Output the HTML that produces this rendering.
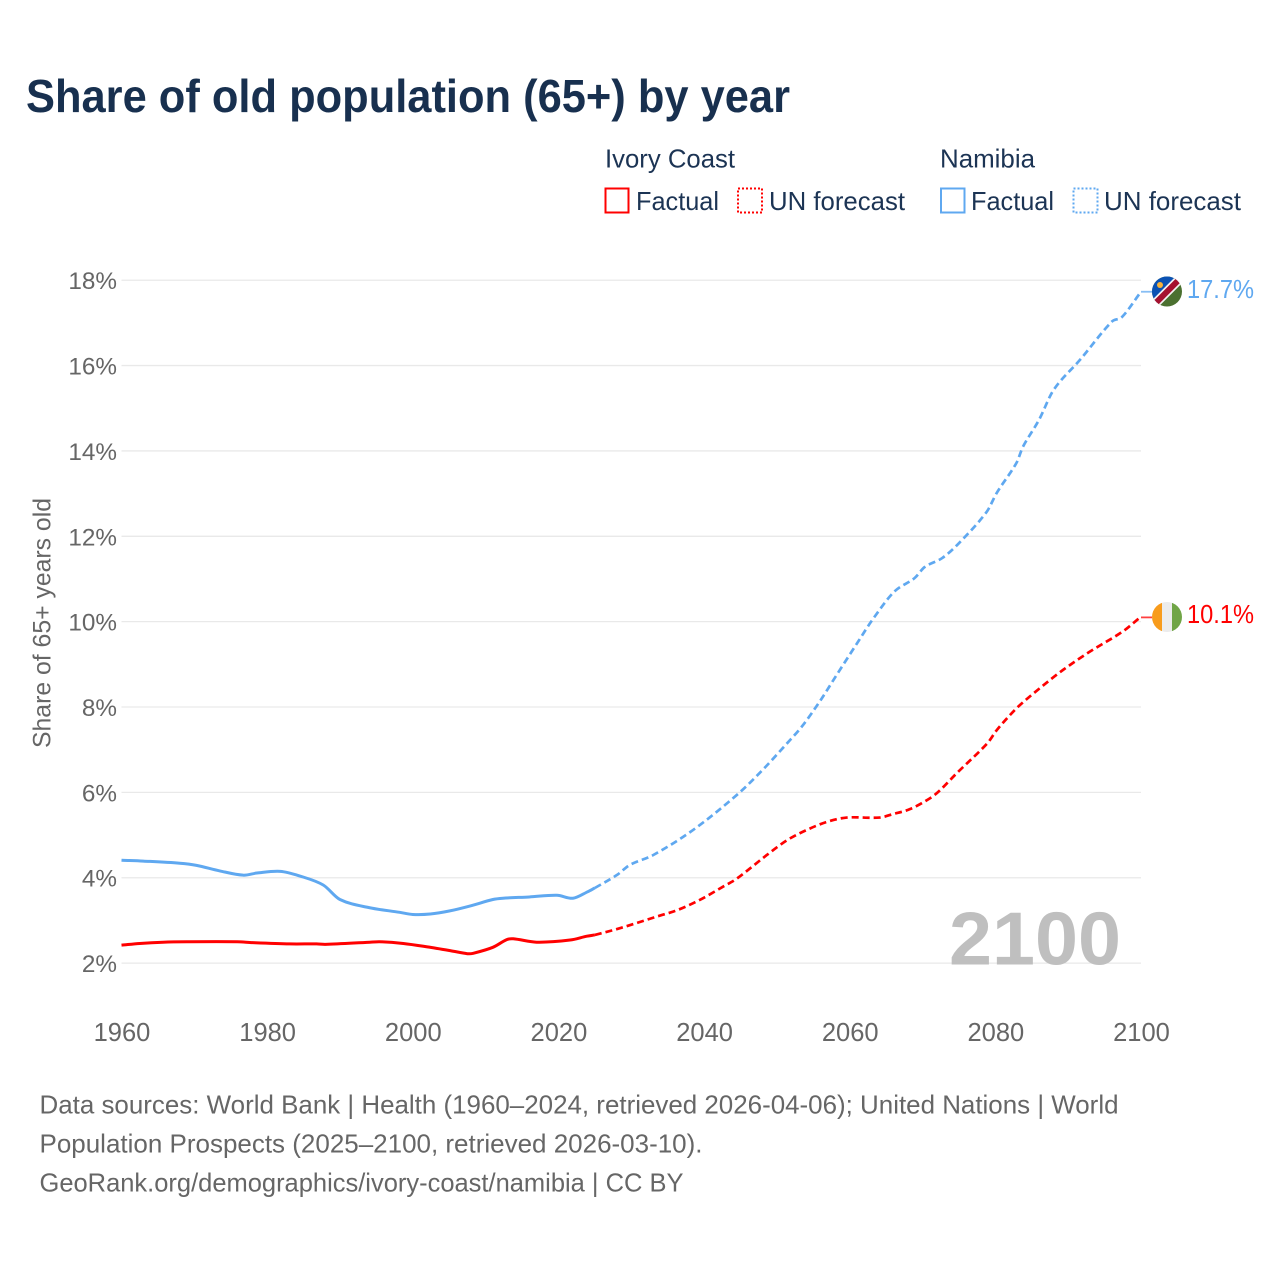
<!DOCTYPE html>
<html lang="en">
<head>
<meta charset="utf-8">
<title>Share of old population (65+) by year</title>
<style>
html,body{margin:0;padding:0;background:#fff}
svg{display:block;font-family:"Liberation Sans",sans-serif}
</style>
</head>
<body>
<svg id="chart" xmlns="http://www.w3.org/2000/svg" width="1280" height="1280" viewBox="0 0 1280 1280">
<defs>
<clipPath id="flag-clip-na"><circle cx="1167" cy="291.5" r="15"/></clipPath>
<clipPath id="flag-clip-ci"><circle cx="1167" cy="617" r="15"/></clipPath>
</defs>
<rect width="1280" height="1280" fill="#fff"/>
<text x="26" y="112" font-size="46" font-weight="700" fill="#18304f" textLength="764" lengthAdjust="spacingAndGlyphs">Share of old population (65+) by year</text>

<g font-size="26" fill="#1c3454">
<text x="605" y="167.5" textLength="130" lengthAdjust="spacingAndGlyphs">Ivory Coast</text>
<text x="940" y="167.5" textLength="95" lengthAdjust="spacingAndGlyphs">Namibia</text>
<rect x="605.5" y="188.5" width="23" height="24" fill="none" stroke="#ff0000" stroke-width="2"/>
<text x="636" y="210" textLength="83" lengthAdjust="spacingAndGlyphs">Factual</text>
<rect x="738" y="188.5" width="24" height="24" fill="none" stroke="#ff0000" stroke-width="2" stroke-dasharray="2 2"/>
<text x="769" y="210" textLength="136" lengthAdjust="spacingAndGlyphs">UN forecast</text>
<rect x="941" y="188.5" width="23.5" height="24" fill="none" stroke="#5fa8f0" stroke-width="2"/>
<text x="971" y="210" textLength="83" lengthAdjust="spacingAndGlyphs">Factual</text>
<rect x="1073.5" y="188.5" width="24" height="24" fill="none" stroke="#5fa8f0" stroke-width="2" stroke-dasharray="2 2"/>
<text x="1104" y="210" textLength="137" lengthAdjust="spacingAndGlyphs">UN forecast</text>
</g>

<g id="grid"></g>
<g id="y-ticks"></g>
<g id="x-ticks"></g>
<text transform="translate(50.5,623) rotate(-90)" text-anchor="middle" font-size="25" fill="#666" textLength="250" lengthAdjust="spacingAndGlyphs">Share of 65+ years old</text>
<text id="year-watermark" x="1121" y="964.5" text-anchor="end" font-size="75" font-weight="700" fill="#bfbfbf" textLength="172" lengthAdjust="spacingAndGlyphs">2100</text>
<g id="series"></g>

<g clip-path="url(#flag-clip-na)">
<rect x="1150" y="275" width="34" height="34" fill="#4b7030"/>
<polygon points="1150,275 1185,275 1150,310" fill="#0b52b4"/>
<polygon points="1154,311.3 1190,275.3 1183.4,268.7 1147.4,304.7" fill="#f4f4f4"/>
<polygon points="1152.8,310.1 1188.8,274.1 1184.6,269.9 1148.6,305.9" fill="#a5112f"/>
<circle cx="1160" cy="285" r="3" fill="#f7b23b"/>
</g>
<g clip-path="url(#flag-clip-ci)">
<rect x="1152" y="602" width="10" height="30" fill="#f89c1c"/>
<rect x="1162" y="602" width="10" height="30" fill="#ececec"/>
<rect x="1172" y="602" width="10" height="30" fill="#70a546"/>
</g>

<text x="1187" y="298" font-size="25.5" fill="#5fa8f0" textLength="67" lengthAdjust="spacingAndGlyphs">17.7%</text>
<text x="1187" y="623" font-size="25.5" fill="#ff0000" textLength="67" lengthAdjust="spacingAndGlyphs">10.1%</text>

<g font-size="26" fill="#666">
<text x="39.5" y="1113.5" textLength="1079" lengthAdjust="spacingAndGlyphs">Data sources: World Bank | Health (1960–2024, retrieved 2026-04-06); United Nations | World</text>
<text x="39.5" y="1152.5" textLength="663" lengthAdjust="spacingAndGlyphs">Population Prospects (2025–2100, retrieved 2026-03-10).</text>
<text x="39.5" y="1191.5" textLength="644" lengthAdjust="spacingAndGlyphs">GeoRank.org/demographics/ivory-coast/namibia | CC BY</text>
</g>
</svg>

<script>
const yTickValues = [2, 4, 6, 8, 10, 12, 14, 16, 18];
const xTickYears = [1960, 1980, 2000, 2020, 2040, 2060, 2080, 2100];

const namibiaFactualYears = [1960, 1963, 1968, 1970.3, 1973.5, 1976.7, 1978.6, 1981.8, 1984.5, 1987.7, 1990, 1994, 1998.2, 2000, 2002.4, 2005, 2007.9, 2011, 2012.4, 2016, 2019.8, 2022, 2024, 2025];
const namibiaFactualValues = [4.41, 4.39, 4.34, 4.29, 4.16, 4.06, 4.11, 4.15, 4.04, 3.83, 3.49, 3.30, 3.19, 3.14, 3.15, 3.22, 3.34, 3.49, 3.52, 3.55, 3.59, 3.52, 3.67, 3.76];
const namibiaForecastYears = [2025, 2028, 2029.8, 2033, 2038.5, 2044.5, 2048, 2051.4, 2053.6, 2056, 2058.2, 2061.3, 2063.1, 2066.1, 2068.9, 2070.3, 2072.7, 2075, 2078.8, 2080.2, 2082.9, 2083.8, 2086, 2088, 2091.6, 2096, 2097.4, 2100];
const namibiaForecastValues = [3.76, 4.06, 4.30, 4.53, 5.12, 5.94, 6.52, 7.15, 7.58, 8.16, 8.75, 9.57, 10.04, 10.7, 11.02, 11.28, 11.49, 11.84, 12.57, 13.02, 13.72, 14.1, 14.73, 15.43, 16.13, 17.03, 17.14, 17.73];

const ivoryFactualYears = [1960, 1962.5, 1965.7, 1969, 1975.9, 1978, 1983.1, 1986.8, 1988, 1994.1, 1995.5, 1998.7, 2002, 2005.2, 2007.5, 2008.3, 2011, 2012.9, 2013.8, 2017, 2021.6, 2023.9, 2025];
const ivoryFactualValues = [2.42, 2.46, 2.49, 2.50, 2.50, 2.48, 2.45, 2.45, 2.44, 2.49, 2.50, 2.46, 2.38, 2.29, 2.22, 2.23, 2.37, 2.55, 2.57, 2.49, 2.54, 2.63, 2.66];
const ivoryForecastYears = [2025, 2028.5, 2033.5, 2036.3, 2039.4, 2042.6, 2044.5, 2048.6, 2051.4, 2054.1, 2056.9, 2059.6, 2064.1, 2065.9, 2068.3, 2071, 2072.4, 2074.7, 2078.9, 2080.2, 2082, 2083.4, 2086.1, 2089.3, 2093, 2097.5, 2099.9, 2100];
const ivoryForecastValues = [2.66, 2.82, 3.09, 3.24, 3.48, 3.79, 3.98, 4.53, 4.88, 5.12, 5.31, 5.41, 5.41, 5.49, 5.61, 5.86, 6.05, 6.45, 7.15, 7.46, 7.81, 8.05, 8.44, 8.87, 9.3, 9.77, 10.1, 10.1];

const SVG_NS = 'http://www.w3.org/2000/svg';
const xScale = year => 121.5 + (year - 1960) * (1141 - 121.5) / 140;
const yScale = value => 963.1 - (value - 2) * 42.68;

function node(tag, parent, attrs) {
  const el = document.createElementNS(SVG_NS, tag);
  Object.keys(attrs).forEach(k => el.setAttribute(k, attrs[k]));
  parent.appendChild(el);
  return el;
}

const gridGroup = document.getElementById('grid');
const yTickGroup = document.getElementById('y-ticks');
const xTickGroup = document.getElementById('x-ticks');
const seriesGroup = document.getElementById('series');

yTickValues.forEach(v => {
  const line = node('line', gridGroup, {x1: xScale(1960), x2: xScale(2100), y1: yScale(v), y2: yScale(v), stroke: '#e9e9e9', 'stroke-width': 1.3});
  
  
  const label = node('text', yTickGroup, {x: 117, y: yScale(v) + 9, 'text-anchor': 'end', 'font-size': 24.3, fill: '#666'});
  
  
  label.textContent = v + '%';
});

xTickYears.forEach(yr => {
  const label = node('text', xTickGroup, {x: xScale(yr) + 0.5, y: 1041, 'text-anchor': 'middle', 'font-size': 25.5, fill: '#666'});
  
  
  label.textContent = yr;
});

function smoothPath(years, values) {
  const px = years.map(xScale);
  const py = values.map(yScale);
  const last = px.length - 1;
  const slope = i => {
    const a = Math.max(i - 1, 0);
    const b = Math.min(i + 1, last);
    return (py[b] - py[a]) / (px[b] - px[a]);
  };
  let d = 'M' + px[0].toFixed(2) + ' ' + py[0].toFixed(2);
  for (let i = 0; i < last; i++) {
    const h = (px[i + 1] - px[i]) / 3;
    d += ' C' + (px[i] + h).toFixed(2) + ' ' + (py[i] + slope(i) * h).toFixed(2) + ' ' +
      (px[i + 1] - h).toFixed(2) + ' ' + (py[i + 1] - slope(i + 1) * h).toFixed(2) + ' ' +
      px[i + 1].toFixed(2) + ' ' + py[i + 1].toFixed(2);
  }
  return d;
}

function drawLine(years, values, color, dashed, name) {
  const attrs = {d: smoothPath(years, values), fill: 'none', stroke: color, 'stroke-width': dashed ? 2.7 : 3, 'stroke-linejoin': 'round'};
  if (dashed) attrs['stroke-dasharray'] = '7 4';
  const line = node('path', seriesGroup, attrs);
  
  
}

function drawLeader(lastValue, color, name) {
  const leader = node('line', seriesGroup, {x1: xScale(2100), x2: 1152, y1: yScale(lastValue), y2: yScale(lastValue), stroke: color, 'stroke-width': 1.8, 'stroke-opacity': 0.75});
  
  
}

drawLine(namibiaFactualYears, namibiaFactualValues, '#5fa8f0', false, 'line-namibia-factual');
drawLine(namibiaForecastYears, namibiaForecastValues, '#5fa8f0', true, 'line-namibia-forecast');
drawLine(ivoryFactualYears, ivoryFactualValues, '#ff0000', false, 'line-ivory-coast-factual');
drawLine(ivoryForecastYears, ivoryForecastValues, '#ff0000', true, 'line-ivory-coast-forecast');
drawLeader(namibiaForecastValues[namibiaForecastValues.length - 1], '#5fa8f0', 'leader-namibia');
drawLeader(ivoryForecastValues[ivoryForecastValues.length - 1], '#ff0000', 'leader-ivory-coast');
</script>
</body>
</html>
